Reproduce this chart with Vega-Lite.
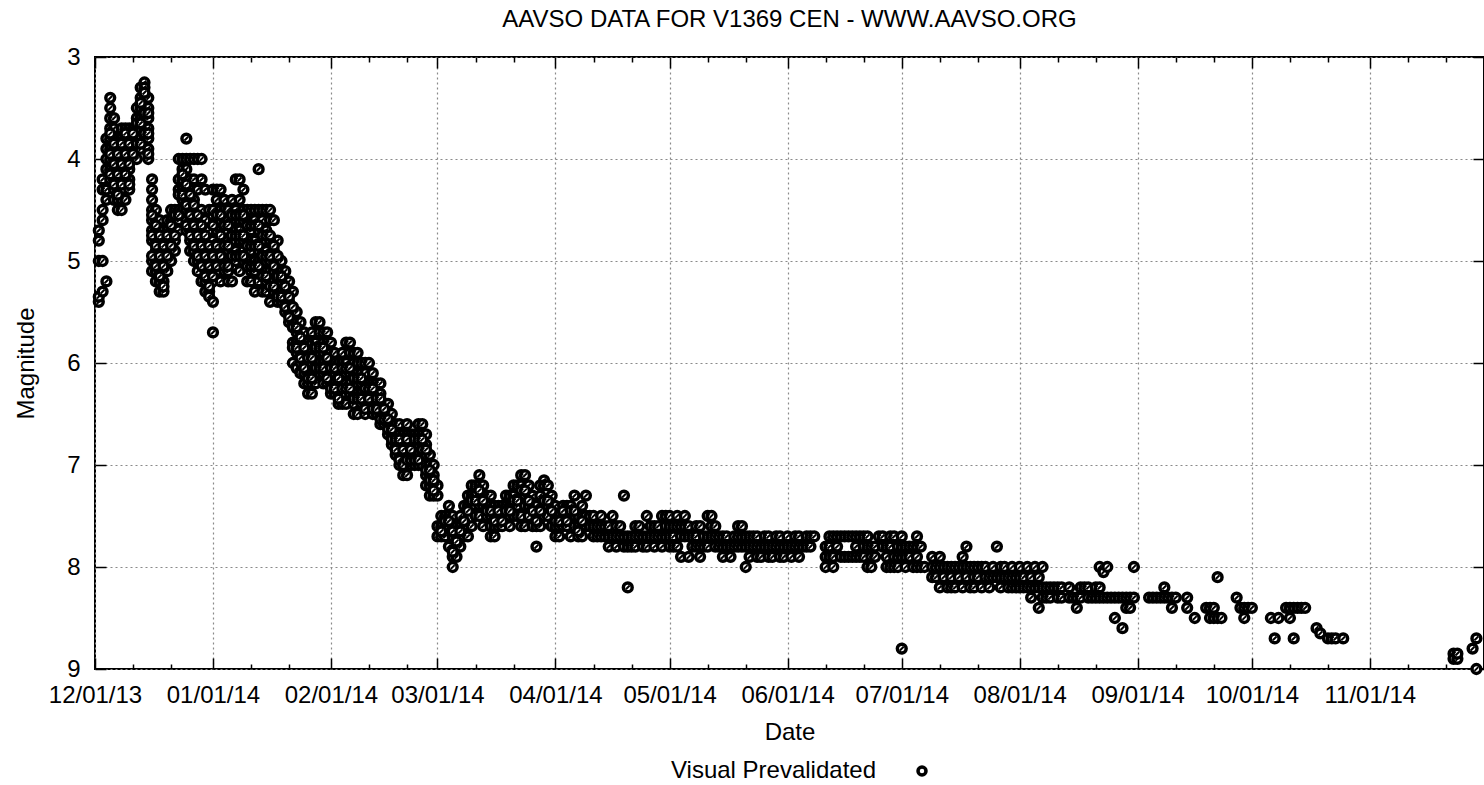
{
"$schema": "https://vega.github.io/schema/vega-lite/v6.json",
"width": 1389, "height": 612,
"autosize": {"type": "none"},
"padding": {"left": 95, "top": 57, "right": 0, "bottom": 116},
"background": "white",
"config": {"font": "Liberation Sans", "view": {"stroke": "black", "strokeWidth": 2}},
"title": {"text": "AAVSO DATA FOR V1369 CEN - WWW.AAVSO.ORG", "fontSize": 24, "fontWeight": "normal", "color": "black", "font": "Liberation Sans", "offset": 13},
"data": {"values": [
{"d":"2013-12-02","m":5.4},{"d":"2013-12-02","m":5.35},{"d":"2013-12-02","m":5.0},{"d":"2013-12-02","m":4.8},{"d":"2013-12-02","m":4.7},
{"d":"2013-12-03","m":5.3},{"d":"2013-12-03","m":5.0},{"d":"2013-12-03","m":4.6},{"d":"2013-12-03","m":4.5},{"d":"2013-12-03","m":4.3},{"d":"2013-12-03","m":4.2},
{"d":"2013-12-04","m":5.2},{"d":"2013-12-04","m":4.4},{"d":"2013-12-04","m":4.3},{"d":"2013-12-04","m":4.1},{"d":"2013-12-04","m":4.0},{"d":"2013-12-04","m":3.9},{"d":"2013-12-04","m":3.8},
{"d":"2013-12-05","m":3.4},{"d":"2013-12-05","m":3.5},{"d":"2013-12-05","m":3.6},{"d":"2013-12-05","m":3.7},{"d":"2013-12-05","m":3.8},{"d":"2013-12-05","m":3.9},{"d":"2013-12-05","m":4.0},{"d":"2013-12-05","m":4.1},{"d":"2013-12-05","m":4.2},
{"d":"2013-12-06","m":3.6},{"d":"2013-12-06","m":3.7},{"d":"2013-12-06","m":3.8},{"d":"2013-12-06","m":3.9},{"d":"2013-12-06","m":4.0},{"d":"2013-12-06","m":4.1},{"d":"2013-12-06","m":4.2},{"d":"2013-12-06","m":4.3},{"d":"2013-12-06","m":4.4},
{"d":"2013-12-07","m":3.8},{"d":"2013-12-07","m":3.9},{"d":"2013-12-07","m":4.0},{"d":"2013-12-07","m":4.1},{"d":"2013-12-07","m":4.2},{"d":"2013-12-07","m":4.3},{"d":"2013-12-07","m":4.4},{"d":"2013-12-07","m":4.5},
{"d":"2013-12-08","m":3.7},{"d":"2013-12-08","m":3.8},{"d":"2013-12-08","m":3.9},{"d":"2013-12-08","m":4.0},{"d":"2013-12-08","m":4.1},{"d":"2013-12-08","m":4.2},{"d":"2013-12-08","m":4.3},{"d":"2013-12-08","m":4.4},{"d":"2013-12-08","m":4.5},
{"d":"2013-12-09","m":3.7},{"d":"2013-12-09","m":3.8},{"d":"2013-12-09","m":4.0},{"d":"2013-12-09","m":4.1},{"d":"2013-12-09","m":4.2},{"d":"2013-12-09","m":4.4},
{"d":"2013-12-10","m":3.7},{"d":"2013-12-10","m":3.8},{"d":"2013-12-10","m":3.9},{"d":"2013-12-10","m":4.0},{"d":"2013-12-10","m":4.1},{"d":"2013-12-10","m":4.2},{"d":"2013-12-10","m":4.3},
{"d":"2013-12-11","m":3.7},{"d":"2013-12-11","m":3.8},{"d":"2013-12-11","m":3.9},{"d":"2013-12-11","m":4.0},
{"d":"2013-12-12","m":3.5},{"d":"2013-12-12","m":3.6},{"d":"2013-12-12","m":3.7},{"d":"2013-12-12","m":3.9},{"d":"2013-12-12","m":4.0},
{"d":"2013-12-13","m":3.3},{"d":"2013-12-13","m":3.4},{"d":"2013-12-13","m":3.5},{"d":"2013-12-13","m":3.6},{"d":"2013-12-13","m":3.7},{"d":"2013-12-13","m":3.8},{"d":"2013-12-13","m":3.9},
{"d":"2013-12-14","m":3.25},{"d":"2013-12-14","m":3.3},{"d":"2013-12-14","m":3.4},{"d":"2013-12-14","m":3.5},{"d":"2013-12-14","m":3.6},{"d":"2013-12-14","m":3.7},{"d":"2013-12-14","m":3.8},
{"d":"2013-12-15","m":3.4},{"d":"2013-12-15","m":3.5},{"d":"2013-12-15","m":3.6},{"d":"2013-12-15","m":3.7},{"d":"2013-12-15","m":3.8},{"d":"2013-12-15","m":3.9},{"d":"2013-12-15","m":4.0},
{"d":"2013-12-16","m":4.2},{"d":"2013-12-16","m":4.3},{"d":"2013-12-16","m":4.4},{"d":"2013-12-16","m":4.5},{"d":"2013-12-16","m":4.6},{"d":"2013-12-16","m":4.7},{"d":"2013-12-16","m":4.8},{"d":"2013-12-16","m":5.0},{"d":"2013-12-16","m":5.1},
{"d":"2013-12-17","m":4.5},{"d":"2013-12-17","m":4.6},{"d":"2013-12-17","m":4.7},{"d":"2013-12-17","m":4.8},{"d":"2013-12-17","m":4.9},{"d":"2013-12-17","m":5.0},{"d":"2013-12-17","m":5.1},{"d":"2013-12-17","m":5.2},
{"d":"2013-12-18","m":4.6},{"d":"2013-12-18","m":4.8},{"d":"2013-12-18","m":4.9},{"d":"2013-12-18","m":5.0},{"d":"2013-12-18","m":5.1},{"d":"2013-12-18","m":5.2},{"d":"2013-12-18","m":5.3},
{"d":"2013-12-19","m":4.7},{"d":"2013-12-19","m":4.8},{"d":"2013-12-19","m":5.0},{"d":"2013-12-19","m":5.1},{"d":"2013-12-19","m":5.2},{"d":"2013-12-19","m":5.3},
{"d":"2013-12-20","m":4.6},{"d":"2013-12-20","m":4.7},{"d":"2013-12-20","m":4.9},{"d":"2013-12-20","m":5.0},{"d":"2013-12-20","m":5.1},
{"d":"2013-12-21","m":4.5},{"d":"2013-12-21","m":4.6},{"d":"2013-12-21","m":4.7},{"d":"2013-12-21","m":4.8},{"d":"2013-12-21","m":5.0},
{"d":"2013-12-22","m":4.5},{"d":"2013-12-22","m":4.6},{"d":"2013-12-22","m":4.8},{"d":"2013-12-22","m":4.9},
{"d":"2013-12-23","m":4.0},{"d":"2013-12-23","m":4.2},{"d":"2013-12-23","m":4.3},{"d":"2013-12-23","m":4.5},{"d":"2013-12-23","m":4.6},{"d":"2013-12-23","m":4.7},
{"d":"2013-12-24","m":4.0},{"d":"2013-12-24","m":4.1},{"d":"2013-12-24","m":4.2},{"d":"2013-12-24","m":4.3},{"d":"2013-12-24","m":4.4},{"d":"2013-12-24","m":4.5},
{"d":"2013-12-25","m":3.8},{"d":"2013-12-25","m":4.0},{"d":"2013-12-25","m":4.1},{"d":"2013-12-25","m":4.3},{"d":"2013-12-25","m":4.4},{"d":"2013-12-25","m":4.5},{"d":"2013-12-25","m":4.6},{"d":"2013-12-25","m":4.7},
{"d":"2013-12-26","m":4.0},{"d":"2013-12-26","m":4.2},{"d":"2013-12-26","m":4.3},{"d":"2013-12-26","m":4.5},{"d":"2013-12-26","m":4.6},{"d":"2013-12-26","m":4.7},{"d":"2013-12-26","m":4.8},{"d":"2013-12-26","m":4.9},
{"d":"2013-12-27","m":4.0},{"d":"2013-12-27","m":4.2},{"d":"2013-12-27","m":4.4},{"d":"2013-12-27","m":4.5},{"d":"2013-12-27","m":4.6},{"d":"2013-12-27","m":4.8},{"d":"2013-12-27","m":4.9},{"d":"2013-12-27","m":5.0},
{"d":"2013-12-28","m":4.0},{"d":"2013-12-28","m":4.3},{"d":"2013-12-28","m":4.6},{"d":"2013-12-28","m":4.7},{"d":"2013-12-28","m":4.8},{"d":"2013-12-28","m":5.0},{"d":"2013-12-28","m":5.1},
{"d":"2013-12-29","m":4.0},{"d":"2013-12-29","m":4.2},{"d":"2013-12-29","m":4.5},{"d":"2013-12-29","m":4.7},{"d":"2013-12-29","m":4.9},{"d":"2013-12-29","m":5.0},{"d":"2013-12-29","m":5.2},
{"d":"2013-12-30","m":4.3},{"d":"2013-12-30","m":4.6},{"d":"2013-12-30","m":4.8},{"d":"2013-12-30","m":5.0},{"d":"2013-12-30","m":5.1},{"d":"2013-12-30","m":5.2},{"d":"2013-12-30","m":5.3},
{"d":"2013-12-31","m":4.5},{"d":"2013-12-31","m":4.7},{"d":"2013-12-31","m":4.9},{"d":"2013-12-31","m":5.0},{"d":"2013-12-31","m":5.1},{"d":"2013-12-31","m":5.3},{"d":"2013-12-31","m":5.35},
{"d":"2014-01-01","m":4.3},{"d":"2014-01-01","m":4.5},{"d":"2014-01-01","m":4.8},{"d":"2014-01-01","m":4.9},{"d":"2014-01-01","m":5.0},{"d":"2014-01-01","m":5.2},{"d":"2014-01-01","m":5.4},{"d":"2014-01-01","m":5.7},
{"d":"2014-01-02","m":4.3},{"d":"2014-01-02","m":4.4},{"d":"2014-01-02","m":4.6},{"d":"2014-01-02","m":4.7},{"d":"2014-01-02","m":4.9},{"d":"2014-01-02","m":5.0},{"d":"2014-01-02","m":5.1},
{"d":"2014-01-03","m":4.3},{"d":"2014-01-03","m":4.5},{"d":"2014-01-03","m":4.6},{"d":"2014-01-03","m":4.8},{"d":"2014-01-03","m":5.0},{"d":"2014-01-03","m":5.2},
{"d":"2014-01-04","m":4.4},{"d":"2014-01-04","m":4.5},{"d":"2014-01-04","m":4.7},{"d":"2014-01-04","m":4.9},{"d":"2014-01-04","m":5.0},{"d":"2014-01-04","m":5.1},
{"d":"2014-01-05","m":4.5},{"d":"2014-01-05","m":4.6},{"d":"2014-01-05","m":4.8},{"d":"2014-01-05","m":4.9},{"d":"2014-01-05","m":5.1},{"d":"2014-01-05","m":5.2},
{"d":"2014-01-06","m":4.4},{"d":"2014-01-06","m":4.6},{"d":"2014-01-06","m":4.8},{"d":"2014-01-06","m":5.0},{"d":"2014-01-06","m":5.2},
{"d":"2014-01-07","m":4.2},{"d":"2014-01-07","m":4.5},{"d":"2014-01-07","m":4.6},{"d":"2014-01-07","m":4.7},{"d":"2014-01-07","m":4.9},{"d":"2014-01-07","m":5.0},
{"d":"2014-01-08","m":4.2},{"d":"2014-01-08","m":4.4},{"d":"2014-01-08","m":4.6},{"d":"2014-01-08","m":4.7},{"d":"2014-01-08","m":4.8},{"d":"2014-01-08","m":5.1},
{"d":"2014-01-09","m":4.3},{"d":"2014-01-09","m":4.5},{"d":"2014-01-09","m":4.6},{"d":"2014-01-09","m":4.8},{"d":"2014-01-09","m":4.9},{"d":"2014-01-09","m":5.0},
{"d":"2014-01-10","m":4.5},{"d":"2014-01-10","m":4.6},{"d":"2014-01-10","m":4.8},{"d":"2014-01-10","m":5.0},{"d":"2014-01-10","m":5.2},
{"d":"2014-01-11","m":4.5},{"d":"2014-01-11","m":4.7},{"d":"2014-01-11","m":4.8},{"d":"2014-01-11","m":4.9},{"d":"2014-01-11","m":5.1},{"d":"2014-01-11","m":5.2},
{"d":"2014-01-12","m":4.5},{"d":"2014-01-12","m":4.6},{"d":"2014-01-12","m":4.8},{"d":"2014-01-12","m":5.0},{"d":"2014-01-12","m":5.1},{"d":"2014-01-12","m":5.3},
{"d":"2014-01-13","m":4.1},{"d":"2014-01-13","m":4.5},{"d":"2014-01-13","m":4.7},{"d":"2014-01-13","m":4.9},{"d":"2014-01-13","m":5.0},{"d":"2014-01-13","m":5.2},
{"d":"2014-01-14","m":4.5},{"d":"2014-01-14","m":4.6},{"d":"2014-01-14","m":4.8},{"d":"2014-01-14","m":5.0},{"d":"2014-01-14","m":5.1},{"d":"2014-01-14","m":5.3},
{"d":"2014-01-15","m":4.5},{"d":"2014-01-15","m":4.7},{"d":"2014-01-15","m":4.9},{"d":"2014-01-15","m":5.0},{"d":"2014-01-15","m":5.2},{"d":"2014-01-15","m":5.3},
{"d":"2014-01-16","m":4.5},{"d":"2014-01-16","m":4.6},{"d":"2014-01-16","m":4.8},{"d":"2014-01-16","m":5.0},{"d":"2014-01-16","m":5.1},{"d":"2014-01-16","m":5.4},
{"d":"2014-01-17","m":4.6},{"d":"2014-01-17","m":4.8},{"d":"2014-01-17","m":4.9},{"d":"2014-01-17","m":5.1},{"d":"2014-01-17","m":5.2},{"d":"2014-01-17","m":5.3},
{"d":"2014-01-18","m":4.8},{"d":"2014-01-18","m":5.0},{"d":"2014-01-18","m":5.1},{"d":"2014-01-18","m":5.2},{"d":"2014-01-18","m":5.3},{"d":"2014-01-18","m":5.4},
{"d":"2014-01-19","m":5.0},{"d":"2014-01-19","m":5.1},{"d":"2014-01-19","m":5.2},{"d":"2014-01-19","m":5.3},{"d":"2014-01-19","m":5.4},
{"d":"2014-01-20","m":5.1},{"d":"2014-01-20","m":5.2},{"d":"2014-01-20","m":5.3},{"d":"2014-01-20","m":5.4},{"d":"2014-01-20","m":5.5},
{"d":"2014-01-21","m":5.2},{"d":"2014-01-21","m":5.3},{"d":"2014-01-21","m":5.4},{"d":"2014-01-21","m":5.5},{"d":"2014-01-21","m":5.6},
{"d":"2014-01-22","m":5.3},{"d":"2014-01-22","m":5.5},{"d":"2014-01-22","m":5.6},{"d":"2014-01-22","m":5.8},{"d":"2014-01-22","m":6.0},
{"d":"2014-01-23","m":5.5},{"d":"2014-01-23","m":5.6},{"d":"2014-01-23","m":5.7},{"d":"2014-01-23","m":5.8},{"d":"2014-01-23","m":5.9},{"d":"2014-01-23","m":6.05},
{"d":"2014-01-24","m":5.6},{"d":"2014-01-24","m":5.7},{"d":"2014-01-24","m":5.8},{"d":"2014-01-24","m":5.9},{"d":"2014-01-24","m":6.0},{"d":"2014-01-24","m":6.1},
{"d":"2014-01-25","m":5.7},{"d":"2014-01-25","m":5.8},{"d":"2014-01-25","m":5.9},{"d":"2014-01-25","m":6.0},{"d":"2014-01-25","m":6.1},{"d":"2014-01-25","m":6.2},
{"d":"2014-01-26","m":5.8},{"d":"2014-01-26","m":5.9},{"d":"2014-01-26","m":6.0},{"d":"2014-01-26","m":6.1},{"d":"2014-01-26","m":6.2},{"d":"2014-01-26","m":6.3},
{"d":"2014-01-27","m":5.7},{"d":"2014-01-27","m":5.8},{"d":"2014-01-27","m":6.0},{"d":"2014-01-27","m":6.1},{"d":"2014-01-27","m":6.2},{"d":"2014-01-27","m":6.3},
{"d":"2014-01-28","m":5.6},{"d":"2014-01-28","m":5.8},{"d":"2014-01-28","m":5.9},{"d":"2014-01-28","m":6.0},{"d":"2014-01-28","m":6.1},{"d":"2014-01-28","m":6.2},
{"d":"2014-01-29","m":5.6},{"d":"2014-01-29","m":5.7},{"d":"2014-01-29","m":5.9},{"d":"2014-01-29","m":6.0},{"d":"2014-01-29","m":6.1},
{"d":"2014-01-30","m":5.7},{"d":"2014-01-30","m":5.8},{"d":"2014-01-30","m":5.9},{"d":"2014-01-30","m":6.0},{"d":"2014-01-30","m":6.1},{"d":"2014-01-30","m":6.2},
{"d":"2014-01-31","m":5.7},{"d":"2014-01-31","m":5.8},{"d":"2014-01-31","m":6.0},{"d":"2014-01-31","m":6.1},{"d":"2014-01-31","m":6.2},
{"d":"2014-02-01","m":5.8},{"d":"2014-02-01","m":5.9},{"d":"2014-02-01","m":6.0},{"d":"2014-02-01","m":6.1},{"d":"2014-02-01","m":6.2},{"d":"2014-02-01","m":6.3},
{"d":"2014-02-02","m":5.9},{"d":"2014-02-02","m":6.0},{"d":"2014-02-02","m":6.1},{"d":"2014-02-02","m":6.2},{"d":"2014-02-02","m":6.3},
{"d":"2014-02-03","m":6.0},{"d":"2014-02-03","m":6.1},{"d":"2014-02-03","m":6.2},{"d":"2014-02-03","m":6.3},{"d":"2014-02-03","m":6.4},
{"d":"2014-02-04","m":5.9},{"d":"2014-02-04","m":6.0},{"d":"2014-02-04","m":6.1},{"d":"2014-02-04","m":6.3},{"d":"2014-02-04","m":6.4},
{"d":"2014-02-05","m":5.8},{"d":"2014-02-05","m":6.0},{"d":"2014-02-05","m":6.1},{"d":"2014-02-05","m":6.2},{"d":"2014-02-05","m":6.4},
{"d":"2014-02-06","m":5.8},{"d":"2014-02-06","m":5.9},{"d":"2014-02-06","m":6.1},{"d":"2014-02-06","m":6.2},{"d":"2014-02-06","m":6.3},
{"d":"2014-02-07","m":5.9},{"d":"2014-02-07","m":6.0},{"d":"2014-02-07","m":6.1},{"d":"2014-02-07","m":6.3},{"d":"2014-02-07","m":6.4},{"d":"2014-02-07","m":6.5},
{"d":"2014-02-08","m":5.9},{"d":"2014-02-08","m":6.0},{"d":"2014-02-08","m":6.2},{"d":"2014-02-08","m":6.3},{"d":"2014-02-08","m":6.5},
{"d":"2014-02-09","m":6.0},{"d":"2014-02-09","m":6.1},{"d":"2014-02-09","m":6.2},{"d":"2014-02-09","m":6.3},{"d":"2014-02-09","m":6.4},
{"d":"2014-02-10","m":6.0},{"d":"2014-02-10","m":6.1},{"d":"2014-02-10","m":6.2},{"d":"2014-02-10","m":6.3},{"d":"2014-02-10","m":6.4},{"d":"2014-02-10","m":6.5},
{"d":"2014-02-11","m":6.0},{"d":"2014-02-11","m":6.2},{"d":"2014-02-11","m":6.3},{"d":"2014-02-11","m":6.4},
{"d":"2014-02-12","m":6.1},{"d":"2014-02-12","m":6.2},{"d":"2014-02-12","m":6.3},{"d":"2014-02-12","m":6.4},{"d":"2014-02-12","m":6.5},
{"d":"2014-02-13","m":6.2},{"d":"2014-02-13","m":6.3},{"d":"2014-02-13","m":6.4},{"d":"2014-02-13","m":6.5},
{"d":"2014-02-14","m":6.2},{"d":"2014-02-14","m":6.3},{"d":"2014-02-14","m":6.4},{"d":"2014-02-14","m":6.5},{"d":"2014-02-14","m":6.6},
{"d":"2014-02-15","m":6.4},{"d":"2014-02-15","m":6.5},{"d":"2014-02-15","m":6.6},
{"d":"2014-02-16","m":6.4},{"d":"2014-02-16","m":6.5},{"d":"2014-02-16","m":6.6},{"d":"2014-02-16","m":6.7},
{"d":"2014-02-17","m":6.5},{"d":"2014-02-17","m":6.6},{"d":"2014-02-17","m":6.7},{"d":"2014-02-17","m":6.8},
{"d":"2014-02-18","m":6.6},{"d":"2014-02-18","m":6.7},{"d":"2014-02-18","m":6.8},{"d":"2014-02-18","m":6.9},
{"d":"2014-02-19","m":6.6},{"d":"2014-02-19","m":6.7},{"d":"2014-02-19","m":6.8},{"d":"2014-02-19","m":6.9},{"d":"2014-02-19","m":7.0},
{"d":"2014-02-20","m":6.7},{"d":"2014-02-20","m":6.8},{"d":"2014-02-20","m":6.9},{"d":"2014-02-20","m":7.1},
{"d":"2014-02-21","m":6.6},{"d":"2014-02-21","m":6.7},{"d":"2014-02-21","m":6.8},{"d":"2014-02-21","m":7.0},{"d":"2014-02-21","m":7.1},
{"d":"2014-02-22","m":6.7},{"d":"2014-02-22","m":6.8},{"d":"2014-02-22","m":6.9},{"d":"2014-02-22","m":7.0},
{"d":"2014-02-23","m":6.7},{"d":"2014-02-23","m":6.8},{"d":"2014-02-23","m":6.9},{"d":"2014-02-23","m":7.0},
{"d":"2014-02-24","m":6.6},{"d":"2014-02-24","m":6.7},{"d":"2014-02-24","m":6.8},{"d":"2014-02-24","m":7.0},
{"d":"2014-02-25","m":6.6},{"d":"2014-02-25","m":6.7},{"d":"2014-02-25","m":6.8},{"d":"2014-02-25","m":6.9},{"d":"2014-02-25","m":7.0},
{"d":"2014-02-26","m":6.7},{"d":"2014-02-26","m":6.8},{"d":"2014-02-26","m":6.9},{"d":"2014-02-26","m":7.1},{"d":"2014-02-26","m":7.2},
{"d":"2014-02-27","m":6.9},{"d":"2014-02-27","m":7.0},{"d":"2014-02-27","m":7.1},{"d":"2014-02-27","m":7.2},{"d":"2014-02-27","m":7.3},
{"d":"2014-02-28","m":7.0},{"d":"2014-02-28","m":7.1},{"d":"2014-02-28","m":7.2},{"d":"2014-02-28","m":7.3},
{"d":"2014-03-01","m":7.2},{"d":"2014-03-01","m":7.3},{"d":"2014-03-01","m":7.6},{"d":"2014-03-01","m":7.7},
{"d":"2014-03-02","m":7.5},{"d":"2014-03-02","m":7.6},{"d":"2014-03-02","m":7.7},
{"d":"2014-03-03","m":7.5},{"d":"2014-03-03","m":7.6},{"d":"2014-03-03","m":7.7},
{"d":"2014-03-04","m":7.4},{"d":"2014-03-04","m":7.5},{"d":"2014-03-04","m":7.6},{"d":"2014-03-04","m":7.8},
{"d":"2014-03-05","m":7.5},{"d":"2014-03-05","m":7.6},{"d":"2014-03-05","m":7.7},{"d":"2014-03-05","m":7.9},{"d":"2014-03-05","m":8.0},
{"d":"2014-03-06","m":7.6},{"d":"2014-03-06","m":7.7},{"d":"2014-03-06","m":7.8},{"d":"2014-03-06","m":7.9},
{"d":"2014-03-07","m":7.5},{"d":"2014-03-07","m":7.6},{"d":"2014-03-07","m":7.7},{"d":"2014-03-07","m":7.8},
{"d":"2014-03-08","m":7.4},{"d":"2014-03-08","m":7.6},{"d":"2014-03-08","m":7.7},
{"d":"2014-03-09","m":7.3},{"d":"2014-03-09","m":7.4},{"d":"2014-03-09","m":7.6},{"d":"2014-03-09","m":7.7},
{"d":"2014-03-10","m":7.2},{"d":"2014-03-10","m":7.3},{"d":"2014-03-10","m":7.4},{"d":"2014-03-10","m":7.6},
{"d":"2014-03-11","m":7.2},{"d":"2014-03-11","m":7.3},{"d":"2014-03-11","m":7.5},
{"d":"2014-03-12","m":7.1},{"d":"2014-03-12","m":7.2},{"d":"2014-03-12","m":7.4},{"d":"2014-03-12","m":7.5},
{"d":"2014-03-13","m":7.2},{"d":"2014-03-13","m":7.3},{"d":"2014-03-13","m":7.4},{"d":"2014-03-13","m":7.6},
{"d":"2014-03-14","m":7.3},{"d":"2014-03-14","m":7.4},{"d":"2014-03-14","m":7.5},
{"d":"2014-03-15","m":7.3},{"d":"2014-03-15","m":7.5},{"d":"2014-03-15","m":7.6},{"d":"2014-03-15","m":7.7},
{"d":"2014-03-16","m":7.4},{"d":"2014-03-16","m":7.5},{"d":"2014-03-16","m":7.6},{"d":"2014-03-16","m":7.7},
{"d":"2014-03-17","m":7.4},{"d":"2014-03-17","m":7.5},{"d":"2014-03-17","m":7.6},
{"d":"2014-03-18","m":7.4},{"d":"2014-03-18","m":7.5},{"d":"2014-03-18","m":7.6},
{"d":"2014-03-19","m":7.3},{"d":"2014-03-19","m":7.4},{"d":"2014-03-19","m":7.5},
{"d":"2014-03-20","m":7.3},{"d":"2014-03-20","m":7.4},{"d":"2014-03-20","m":7.5},{"d":"2014-03-20","m":7.6},
{"d":"2014-03-21","m":7.2},{"d":"2014-03-21","m":7.3},{"d":"2014-03-21","m":7.4},{"d":"2014-03-21","m":7.5},
{"d":"2014-03-22","m":7.2},{"d":"2014-03-22","m":7.4},{"d":"2014-03-22","m":7.5},
{"d":"2014-03-23","m":7.1},{"d":"2014-03-23","m":7.2},{"d":"2014-03-23","m":7.3},{"d":"2014-03-23","m":7.5},{"d":"2014-03-23","m":7.6},
{"d":"2014-03-24","m":7.1},{"d":"2014-03-24","m":7.3},{"d":"2014-03-24","m":7.4},{"d":"2014-03-24","m":7.6},
{"d":"2014-03-25","m":7.2},{"d":"2014-03-25","m":7.4},{"d":"2014-03-25","m":7.5},
{"d":"2014-03-26","m":7.3},{"d":"2014-03-26","m":7.4},{"d":"2014-03-26","m":7.6},
{"d":"2014-03-27","m":7.4},{"d":"2014-03-27","m":7.5},{"d":"2014-03-27","m":7.6},{"d":"2014-03-27","m":7.8},
{"d":"2014-03-28","m":7.2},{"d":"2014-03-28","m":7.3},{"d":"2014-03-28","m":7.5},{"d":"2014-03-28","m":7.6},
{"d":"2014-03-29","m":7.15},{"d":"2014-03-29","m":7.2},{"d":"2014-03-29","m":7.4},{"d":"2014-03-29","m":7.5},
{"d":"2014-03-30","m":7.2},{"d":"2014-03-30","m":7.4},{"d":"2014-03-30","m":7.5},
{"d":"2014-03-31","m":7.3},{"d":"2014-03-31","m":7.4},{"d":"2014-03-31","m":7.6},
{"d":"2014-04-01","m":7.4},{"d":"2014-04-01","m":7.5},{"d":"2014-04-01","m":7.6},{"d":"2014-04-01","m":7.7},
{"d":"2014-04-02","m":7.5},{"d":"2014-04-02","m":7.6},{"d":"2014-04-02","m":7.7},
{"d":"2014-04-03","m":7.4},{"d":"2014-04-03","m":7.5},{"d":"2014-04-03","m":7.6},
{"d":"2014-04-04","m":7.4},{"d":"2014-04-04","m":7.5},{"d":"2014-04-04","m":7.6},
{"d":"2014-04-05","m":7.4},{"d":"2014-04-05","m":7.5},{"d":"2014-04-05","m":7.7},
{"d":"2014-04-06","m":7.3},{"d":"2014-04-06","m":7.5},{"d":"2014-04-06","m":7.6},
{"d":"2014-04-07","m":7.5},{"d":"2014-04-07","m":7.6},{"d":"2014-04-07","m":7.7},
{"d":"2014-04-08","m":7.4},{"d":"2014-04-08","m":7.6},{"d":"2014-04-08","m":7.7},
{"d":"2014-04-09","m":7.3},{"d":"2014-04-09","m":7.5},{"d":"2014-04-09","m":7.6},
{"d":"2014-04-10","m":7.5},{"d":"2014-04-10","m":7.6},
{"d":"2014-04-11","m":7.5},{"d":"2014-04-11","m":7.6},{"d":"2014-04-11","m":7.7},
{"d":"2014-04-12","m":7.6},{"d":"2014-04-12","m":7.7},
{"d":"2014-04-13","m":7.5},{"d":"2014-04-13","m":7.6},{"d":"2014-04-13","m":7.7},
{"d":"2014-04-14","m":7.6},{"d":"2014-04-14","m":7.7},
{"d":"2014-04-15","m":7.6},{"d":"2014-04-15","m":7.7},{"d":"2014-04-15","m":7.8},
{"d":"2014-04-16","m":7.5},{"d":"2014-04-16","m":7.7},
{"d":"2014-04-17","m":7.6},{"d":"2014-04-17","m":7.7},{"d":"2014-04-17","m":7.8},
{"d":"2014-04-18","m":7.6},{"d":"2014-04-18","m":7.7},
{"d":"2014-04-19","m":7.3},{"d":"2014-04-19","m":7.7},{"d":"2014-04-19","m":7.8},
{"d":"2014-04-20","m":7.7},{"d":"2014-04-20","m":7.8},{"d":"2014-04-20","m":8.2},
{"d":"2014-04-21","m":7.7},{"d":"2014-04-21","m":7.8},
{"d":"2014-04-22","m":7.6},{"d":"2014-04-22","m":7.7},{"d":"2014-04-22","m":7.8},
{"d":"2014-04-23","m":7.6},{"d":"2014-04-23","m":7.7},
{"d":"2014-04-24","m":7.7},{"d":"2014-04-24","m":7.8},
{"d":"2014-04-25","m":7.5},{"d":"2014-04-25","m":7.7},{"d":"2014-04-25","m":7.8},
{"d":"2014-04-26","m":7.6},{"d":"2014-04-26","m":7.7},
{"d":"2014-04-27","m":7.6},{"d":"2014-04-27","m":7.7},{"d":"2014-04-27","m":7.8},
{"d":"2014-04-28","m":7.6},{"d":"2014-04-28","m":7.7},
{"d":"2014-04-29","m":7.5},{"d":"2014-04-29","m":7.7},{"d":"2014-04-29","m":7.8},
{"d":"2014-04-30","m":7.5},{"d":"2014-04-30","m":7.6},{"d":"2014-04-30","m":7.7},
{"d":"2014-05-01","m":7.5},{"d":"2014-05-01","m":7.6},{"d":"2014-05-01","m":7.7},{"d":"2014-05-01","m":7.8},
{"d":"2014-05-02","m":7.6},{"d":"2014-05-02","m":7.7},{"d":"2014-05-02","m":7.8},
{"d":"2014-05-03","m":7.5},{"d":"2014-05-03","m":7.6},{"d":"2014-05-03","m":7.8},
{"d":"2014-05-04","m":7.6},{"d":"2014-05-04","m":7.7},{"d":"2014-05-04","m":7.9},
{"d":"2014-05-05","m":7.5},{"d":"2014-05-05","m":7.6},{"d":"2014-05-05","m":7.7},
{"d":"2014-05-06","m":7.6},{"d":"2014-05-06","m":7.7},{"d":"2014-05-06","m":7.9},
{"d":"2014-05-07","m":7.7},{"d":"2014-05-07","m":7.8},
{"d":"2014-05-08","m":7.6},{"d":"2014-05-08","m":7.7},{"d":"2014-05-08","m":7.8},
{"d":"2014-05-09","m":7.6},{"d":"2014-05-09","m":7.8},{"d":"2014-05-09","m":7.9},
{"d":"2014-05-10","m":7.7},{"d":"2014-05-10","m":7.8},
{"d":"2014-05-11","m":7.5},{"d":"2014-05-11","m":7.7},{"d":"2014-05-11","m":7.8},
{"d":"2014-05-12","m":7.5},{"d":"2014-05-12","m":7.6},{"d":"2014-05-12","m":7.7},
{"d":"2014-05-13","m":7.6},{"d":"2014-05-13","m":7.7},{"d":"2014-05-13","m":7.8},
{"d":"2014-05-14","m":7.7},{"d":"2014-05-14","m":7.8},
{"d":"2014-05-15","m":7.7},{"d":"2014-05-15","m":7.8},{"d":"2014-05-15","m":7.9},
{"d":"2014-05-16","m":7.7},{"d":"2014-05-16","m":7.8},
{"d":"2014-05-17","m":7.8},{"d":"2014-05-17","m":7.9},
{"d":"2014-05-18","m":7.7},{"d":"2014-05-18","m":7.8},
{"d":"2014-05-19","m":7.6},{"d":"2014-05-19","m":7.7},{"d":"2014-05-19","m":7.8},
{"d":"2014-05-20","m":7.6},{"d":"2014-05-20","m":7.7},{"d":"2014-05-20","m":7.8},
{"d":"2014-05-21","m":7.7},{"d":"2014-05-21","m":7.8},{"d":"2014-05-21","m":8.0},
{"d":"2014-05-22","m":7.7},{"d":"2014-05-22","m":7.8},{"d":"2014-05-22","m":7.9},
{"d":"2014-05-23","m":7.7},{"d":"2014-05-23","m":7.8},
{"d":"2014-05-24","m":7.7},{"d":"2014-05-24","m":7.8},{"d":"2014-05-24","m":7.9},
{"d":"2014-05-25","m":7.8},{"d":"2014-05-25","m":7.9},
{"d":"2014-05-26","m":7.7},{"d":"2014-05-26","m":7.8},
{"d":"2014-05-27","m":7.7},{"d":"2014-05-27","m":7.8},{"d":"2014-05-27","m":7.9},
{"d":"2014-05-28","m":7.8},{"d":"2014-05-28","m":7.9},
{"d":"2014-05-29","m":7.7},{"d":"2014-05-29","m":7.8},
{"d":"2014-05-30","m":7.7},{"d":"2014-05-30","m":7.8},{"d":"2014-05-30","m":7.9},
{"d":"2014-05-31","m":7.8},{"d":"2014-05-31","m":7.9},
{"d":"2014-06-01","m":7.7},{"d":"2014-06-01","m":7.8},
{"d":"2014-06-02","m":7.8},{"d":"2014-06-02","m":7.9},
{"d":"2014-06-03","m":7.7},{"d":"2014-06-03","m":7.8},
{"d":"2014-06-04","m":7.7},{"d":"2014-06-04","m":7.8},{"d":"2014-06-04","m":7.9},
{"d":"2014-06-05","m":7.8},
{"d":"2014-06-06","m":7.7},{"d":"2014-06-06","m":7.8},
{"d":"2014-06-07","m":7.7},{"d":"2014-06-07","m":7.8},
{"d":"2014-06-08","m":7.7},
{"d":"2014-06-11","m":7.8},{"d":"2014-06-11","m":7.9},{"d":"2014-06-11","m":8.0},
{"d":"2014-06-12","m":7.7},{"d":"2014-06-12","m":7.8},{"d":"2014-06-12","m":7.9},
{"d":"2014-06-13","m":7.7},{"d":"2014-06-13","m":7.9},{"d":"2014-06-13","m":8.0},
{"d":"2014-06-14","m":7.7},{"d":"2014-06-14","m":7.8},
{"d":"2014-06-15","m":7.7},{"d":"2014-06-15","m":7.9},
{"d":"2014-06-16","m":7.7},{"d":"2014-06-16","m":7.9},
{"d":"2014-06-17","m":7.7},{"d":"2014-06-17","m":7.9},
{"d":"2014-06-18","m":7.7},{"d":"2014-06-18","m":7.9},
{"d":"2014-06-19","m":7.7},{"d":"2014-06-19","m":7.8},{"d":"2014-06-19","m":7.9},
{"d":"2014-06-20","m":7.7},{"d":"2014-06-20","m":7.9},
{"d":"2014-06-21","m":7.7},{"d":"2014-06-21","m":7.8},{"d":"2014-06-21","m":7.9},
{"d":"2014-06-22","m":7.7},{"d":"2014-06-22","m":7.8},{"d":"2014-06-22","m":8.0},
{"d":"2014-06-23","m":7.8},{"d":"2014-06-23","m":7.9},{"d":"2014-06-23","m":8.0},
{"d":"2014-06-24","m":7.8},{"d":"2014-06-24","m":7.9},
{"d":"2014-06-25","m":7.7},
{"d":"2014-06-26","m":7.7},{"d":"2014-06-26","m":7.8},
{"d":"2014-06-27","m":7.8},{"d":"2014-06-27","m":7.9},{"d":"2014-06-27","m":8.0},
{"d":"2014-06-28","m":7.7},{"d":"2014-06-28","m":7.8},{"d":"2014-06-28","m":8.0},
{"d":"2014-06-29","m":7.7},{"d":"2014-06-29","m":7.9},{"d":"2014-06-29","m":8.0},
{"d":"2014-06-30","m":7.8},{"d":"2014-06-30","m":7.9},{"d":"2014-06-30","m":8.0},
{"d":"2014-07-01","m":7.7},{"d":"2014-07-01","m":7.8},{"d":"2014-07-01","m":7.9},{"d":"2014-07-01","m":8.8},
{"d":"2014-07-02","m":7.8},{"d":"2014-07-02","m":7.9},{"d":"2014-07-02","m":8.0},
{"d":"2014-07-03","m":7.8},{"d":"2014-07-03","m":7.9},
{"d":"2014-07-04","m":7.8},{"d":"2014-07-04","m":8.0},
{"d":"2014-07-05","m":7.7},{"d":"2014-07-05","m":7.8},{"d":"2014-07-05","m":7.9},{"d":"2014-07-05","m":8.0},
{"d":"2014-07-06","m":7.8},{"d":"2014-07-06","m":8.0},
{"d":"2014-07-07","m":8.0},
{"d":"2014-07-09","m":7.9},{"d":"2014-07-09","m":8.0},{"d":"2014-07-09","m":8.1},
{"d":"2014-07-10","m":8.0},{"d":"2014-07-10","m":8.1},
{"d":"2014-07-11","m":7.9},{"d":"2014-07-11","m":8.0},{"d":"2014-07-11","m":8.2},
{"d":"2014-07-12","m":8.0},{"d":"2014-07-12","m":8.1},
{"d":"2014-07-13","m":8.0},{"d":"2014-07-13","m":8.2},
{"d":"2014-07-14","m":8.0},{"d":"2014-07-14","m":8.1},{"d":"2014-07-14","m":8.2},
{"d":"2014-07-15","m":8.0},{"d":"2014-07-15","m":8.2},
{"d":"2014-07-16","m":8.0},{"d":"2014-07-16","m":8.1},
{"d":"2014-07-17","m":7.9},{"d":"2014-07-17","m":8.0},{"d":"2014-07-17","m":8.2},
{"d":"2014-07-18","m":7.8},{"d":"2014-07-18","m":8.0},{"d":"2014-07-18","m":8.1},
{"d":"2014-07-19","m":8.0},{"d":"2014-07-19","m":8.2},
{"d":"2014-07-20","m":8.0},{"d":"2014-07-20","m":8.1},{"d":"2014-07-20","m":8.2},
{"d":"2014-07-21","m":8.0},{"d":"2014-07-21","m":8.1},
{"d":"2014-07-22","m":8.0},{"d":"2014-07-22","m":8.2},
{"d":"2014-07-23","m":8.0},{"d":"2014-07-23","m":8.1},
{"d":"2014-07-24","m":8.1},{"d":"2014-07-24","m":8.2},
{"d":"2014-07-25","m":8.0},{"d":"2014-07-25","m":8.1},
{"d":"2014-07-26","m":7.8},{"d":"2014-07-26","m":8.1},
{"d":"2014-07-27","m":8.0},{"d":"2014-07-27","m":8.1},{"d":"2014-07-27","m":8.2},
{"d":"2014-07-28","m":8.0},{"d":"2014-07-28","m":8.1},
{"d":"2014-07-29","m":8.1},{"d":"2014-07-29","m":8.2},
{"d":"2014-07-30","m":8.0},{"d":"2014-07-30","m":8.1},{"d":"2014-07-30","m":8.2},
{"d":"2014-07-31","m":8.1},{"d":"2014-07-31","m":8.2},
{"d":"2014-08-01","m":8.0},{"d":"2014-08-01","m":8.1},{"d":"2014-08-01","m":8.2},
{"d":"2014-08-02","m":8.1},{"d":"2014-08-02","m":8.2},
{"d":"2014-08-03","m":8.0},{"d":"2014-08-03","m":8.2},
{"d":"2014-08-04","m":8.1},{"d":"2014-08-04","m":8.2},{"d":"2014-08-04","m":8.3},
{"d":"2014-08-05","m":8.0},{"d":"2014-08-05","m":8.2},
{"d":"2014-08-06","m":8.1},{"d":"2014-08-06","m":8.2},{"d":"2014-08-06","m":8.4},
{"d":"2014-08-07","m":8.0},{"d":"2014-08-07","m":8.2},{"d":"2014-08-07","m":8.3},
{"d":"2014-08-08","m":8.2},{"d":"2014-08-08","m":8.3},
{"d":"2014-08-09","m":8.2},{"d":"2014-08-09","m":8.3},
{"d":"2014-08-10","m":8.2},
{"d":"2014-08-11","m":8.2},{"d":"2014-08-11","m":8.3},
{"d":"2014-08-12","m":8.2},{"d":"2014-08-12","m":8.3},
{"d":"2014-08-14","m":8.2},{"d":"2014-08-14","m":8.3},
{"d":"2014-08-15","m":8.3},
{"d":"2014-08-16","m":8.3},{"d":"2014-08-16","m":8.4},
{"d":"2014-08-17","m":8.2},{"d":"2014-08-17","m":8.3},
{"d":"2014-08-18","m":8.2},
{"d":"2014-08-19","m":8.2},{"d":"2014-08-19","m":8.3},
{"d":"2014-08-20","m":8.3},
{"d":"2014-08-21","m":8.2},{"d":"2014-08-21","m":8.3},
{"d":"2014-08-22","m":8.0},{"d":"2014-08-22","m":8.2},{"d":"2014-08-22","m":8.3},
{"d":"2014-08-23","m":8.05},{"d":"2014-08-23","m":8.3},
{"d":"2014-08-24","m":8.0},{"d":"2014-08-24","m":8.3},
{"d":"2014-08-25","m":8.3},
{"d":"2014-08-26","m":8.3},{"d":"2014-08-26","m":8.5},
{"d":"2014-08-27","m":8.3},
{"d":"2014-08-28","m":8.3},{"d":"2014-08-28","m":8.6},
{"d":"2014-08-29","m":8.3},{"d":"2014-08-29","m":8.4},
{"d":"2014-08-30","m":8.3},{"d":"2014-08-30","m":8.4},
{"d":"2014-08-31","m":8.0},{"d":"2014-08-31","m":8.3},
{"d":"2014-09-04","m":8.3},{"d":"2014-09-05","m":8.3},{"d":"2014-09-06","m":8.3},{"d":"2014-09-07","m":8.3},
{"d":"2014-09-08","m":8.2},{"d":"2014-09-08","m":8.3},
{"d":"2014-09-09","m":8.3},
{"d":"2014-09-10","m":8.3},{"d":"2014-09-10","m":8.4},
{"d":"2014-09-11","m":8.3},
{"d":"2014-09-14","m":8.3},{"d":"2014-09-14","m":8.4},
{"d":"2014-09-16","m":8.5},
{"d":"2014-09-19","m":8.4},
{"d":"2014-09-20","m":8.4},{"d":"2014-09-20","m":8.5},
{"d":"2014-09-21","m":8.4},{"d":"2014-09-21","m":8.5},
{"d":"2014-09-22","m":8.1},{"d":"2014-09-22","m":8.5},
{"d":"2014-09-23","m":8.5},
{"d":"2014-09-27","m":8.3},
{"d":"2014-09-28","m":8.4},
{"d":"2014-09-29","m":8.4},{"d":"2014-09-29","m":8.5},
{"d":"2014-09-30","m":8.4},
{"d":"2014-10-01","m":8.4},
{"d":"2014-10-06","m":8.5},
{"d":"2014-10-07","m":8.7},
{"d":"2014-10-08","m":8.5},
{"d":"2014-10-10","m":8.4},
{"d":"2014-10-11","m":8.4},{"d":"2014-10-11","m":8.5},
{"d":"2014-10-12","m":8.4},{"d":"2014-10-12","m":8.7},
{"d":"2014-10-13","m":8.4},
{"d":"2014-10-14","m":8.4},
{"d":"2014-10-15","m":8.4},
{"d":"2014-10-18","m":8.6},
{"d":"2014-10-19","m":8.65},
{"d":"2014-10-21","m":8.7},
{"d":"2014-10-22","m":8.7},
{"d":"2014-10-23","m":8.7},
{"d":"2014-10-25","m":8.7},
{"d":"2014-11-23","m":8.85},{"d":"2014-11-23","m":8.9},
{"d":"2014-11-24","m":8.9},{"d":"2014-11-24","m":8.85},
{"d":"2014-11-28","m":8.8},
{"d":"2014-11-29","m":8.7},{"d":"2014-11-29","m":9.0},
{"d":"2013-12-05","m":3.75},{"d":"2013-12-05","m":3.95},{"d":"2013-12-05","m":4.15},
{"d":"2013-12-06","m":3.85},{"d":"2013-12-06","m":4.05},{"d":"2013-12-06","m":4.25},
{"d":"2013-12-07","m":3.95},{"d":"2013-12-07","m":4.15},{"d":"2013-12-07","m":4.35},
{"d":"2013-12-08","m":3.85},{"d":"2013-12-08","m":4.05},{"d":"2013-12-08","m":4.25},
{"d":"2013-12-09","m":3.75},{"d":"2013-12-09","m":3.95},{"d":"2013-12-09","m":4.15},
{"d":"2013-12-10","m":3.85},{"d":"2013-12-10","m":4.05},{"d":"2013-12-10","m":4.25},
{"d":"2013-12-11","m":3.75},{"d":"2013-12-11","m":3.95},
{"d":"2013-12-12","m":3.65},{"d":"2013-12-12","m":3.85},
{"d":"2013-12-13","m":3.45},{"d":"2013-12-13","m":3.65},{"d":"2013-12-13","m":3.85},
{"d":"2013-12-14","m":3.35},{"d":"2013-12-14","m":3.55},{"d":"2013-12-14","m":3.75},
{"d":"2013-12-15","m":3.55},{"d":"2013-12-15","m":3.75},{"d":"2013-12-15","m":3.95},
{"d":"2013-12-16","m":4.55},{"d":"2013-12-16","m":4.75},{"d":"2013-12-16","m":4.95},
{"d":"2013-12-17","m":4.65},{"d":"2013-12-17","m":4.85},{"d":"2013-12-17","m":5.05},
{"d":"2013-12-18","m":4.75},{"d":"2013-12-18","m":4.95},{"d":"2013-12-18","m":5.15},
{"d":"2013-12-19","m":4.85},{"d":"2013-12-19","m":5.05},{"d":"2013-12-19","m":5.25},
{"d":"2013-12-20","m":4.75},{"d":"2013-12-20","m":4.95},
{"d":"2013-12-21","m":4.65},{"d":"2013-12-21","m":4.85},
{"d":"2013-12-22","m":4.55},{"d":"2013-12-22","m":4.75},
{"d":"2013-12-23","m":4.35},{"d":"2013-12-23","m":4.55},
{"d":"2013-12-24","m":4.15},{"d":"2013-12-24","m":4.35},
{"d":"2013-12-25","m":4.25},{"d":"2013-12-25","m":4.45},{"d":"2013-12-25","m":4.65},
{"d":"2013-12-26","m":4.35},{"d":"2013-12-26","m":4.55},{"d":"2013-12-26","m":4.75},
{"d":"2013-12-27","m":4.45},{"d":"2013-12-27","m":4.65},{"d":"2013-12-27","m":4.85},
{"d":"2013-12-28","m":4.55},{"d":"2013-12-28","m":4.75},{"d":"2013-12-28","m":4.95},
{"d":"2013-12-29","m":4.65},{"d":"2013-12-29","m":4.85},{"d":"2013-12-29","m":5.05},
{"d":"2013-12-30","m":4.75},{"d":"2013-12-30","m":4.95},{"d":"2013-12-30","m":5.15},
{"d":"2013-12-31","m":4.85},{"d":"2013-12-31","m":5.05},{"d":"2013-12-31","m":5.25},
{"d":"2014-01-01","m":4.65},{"d":"2014-01-01","m":4.95},{"d":"2014-01-01","m":5.15},
{"d":"2014-01-02","m":4.55},{"d":"2014-01-02","m":4.85},{"d":"2014-01-02","m":5.05},
{"d":"2014-01-03","m":4.55},{"d":"2014-01-03","m":4.75},{"d":"2014-01-03","m":4.95},
{"d":"2014-01-04","m":4.65},{"d":"2014-01-04","m":4.85},{"d":"2014-01-04","m":5.05},
{"d":"2014-01-05","m":4.65},{"d":"2014-01-05","m":4.85},{"d":"2014-01-05","m":5.05},
{"d":"2014-01-06","m":4.55},{"d":"2014-01-06","m":4.75},{"d":"2014-01-06","m":4.95},
{"d":"2014-01-07","m":4.55},{"d":"2014-01-07","m":4.75},{"d":"2014-01-07","m":4.95},
{"d":"2014-01-08","m":4.55},{"d":"2014-01-08","m":4.75},{"d":"2014-01-08","m":4.95},
{"d":"2014-01-09","m":4.55},{"d":"2014-01-09","m":4.75},{"d":"2014-01-09","m":4.95},
{"d":"2014-01-10","m":4.65},{"d":"2014-01-10","m":4.85},{"d":"2014-01-10","m":5.05},
{"d":"2014-01-11","m":4.65},{"d":"2014-01-11","m":4.85},{"d":"2014-01-11","m":5.05},
{"d":"2014-01-12","m":4.65},{"d":"2014-01-12","m":4.85},{"d":"2014-01-12","m":5.05},
{"d":"2014-01-13","m":4.65},{"d":"2014-01-13","m":4.85},{"d":"2014-01-13","m":5.05},
{"d":"2014-01-14","m":4.75},{"d":"2014-01-14","m":4.95},{"d":"2014-01-14","m":5.15},
{"d":"2014-01-15","m":4.75},{"d":"2014-01-15","m":4.95},{"d":"2014-01-15","m":5.15},
{"d":"2014-01-16","m":4.75},{"d":"2014-01-16","m":4.95},{"d":"2014-01-16","m":5.25},
{"d":"2014-01-17","m":4.85},{"d":"2014-01-17","m":5.05},{"d":"2014-01-17","m":5.25},
{"d":"2014-01-18","m":4.95},{"d":"2014-01-18","m":5.15},{"d":"2014-01-18","m":5.35},
{"d":"2014-01-19","m":5.15},{"d":"2014-01-19","m":5.35},
{"d":"2014-01-20","m":5.25},{"d":"2014-01-20","m":5.45},
{"d":"2014-01-21","m":5.35},{"d":"2014-01-21","m":5.55},
{"d":"2014-01-22","m":5.45},{"d":"2014-01-22","m":5.65},{"d":"2014-01-22","m":5.85},
{"d":"2014-01-23","m":5.65},{"d":"2014-01-23","m":5.85},
{"d":"2014-01-24","m":5.75},{"d":"2014-01-24","m":5.95},
{"d":"2014-01-25","m":5.85},{"d":"2014-01-25","m":6.05},
{"d":"2014-01-26","m":5.95},{"d":"2014-01-26","m":6.15},
{"d":"2014-01-27","m":5.95},{"d":"2014-01-27","m":6.15},
{"d":"2014-01-28","m":5.85},{"d":"2014-01-28","m":6.05},
{"d":"2014-01-29","m":5.85},{"d":"2014-01-29","m":6.05},
{"d":"2014-01-30","m":5.85},{"d":"2014-01-30","m":6.05},
{"d":"2014-01-31","m":5.95},{"d":"2014-01-31","m":6.15},
{"d":"2014-02-01","m":6.05},{"d":"2014-02-01","m":6.25},
{"d":"2014-02-02","m":6.05},{"d":"2014-02-02","m":6.25},
{"d":"2014-02-03","m":6.15},{"d":"2014-02-03","m":6.35},
{"d":"2014-02-04","m":6.05},{"d":"2014-02-04","m":6.25},
{"d":"2014-02-05","m":6.05},{"d":"2014-02-05","m":6.25},
{"d":"2014-02-06","m":6.05},{"d":"2014-02-06","m":6.25},
{"d":"2014-02-07","m":6.15},{"d":"2014-02-07","m":6.35},
{"d":"2014-02-08","m":6.15},{"d":"2014-02-08","m":6.35},
{"d":"2014-02-09","m":6.15},{"d":"2014-02-09","m":6.35},
{"d":"2014-02-10","m":6.25},{"d":"2014-02-10","m":6.45},
{"d":"2014-02-11","m":6.25},{"d":"2014-02-11","m":6.35},
{"d":"2014-02-12","m":6.25},{"d":"2014-02-12","m":6.45},
{"d":"2014-02-13","m":6.35},{"d":"2014-02-13","m":6.45},
{"d":"2014-02-14","m":6.35},{"d":"2014-02-14","m":6.55},
{"d":"2014-02-15","m":6.45},{"d":"2014-02-15","m":6.55},
{"d":"2014-02-16","m":6.55},{"d":"2014-02-16","m":6.65},
{"d":"2014-02-17","m":6.65},{"d":"2014-02-17","m":6.75},
{"d":"2014-02-18","m":6.75},{"d":"2014-02-18","m":6.85},
{"d":"2014-02-19","m":6.75},{"d":"2014-02-19","m":6.95},
{"d":"2014-02-20","m":6.85},{"d":"2014-02-20","m":7.0},
{"d":"2014-02-21","m":6.75},{"d":"2014-02-21","m":6.95},
{"d":"2014-02-22","m":6.85},{"d":"2014-02-22","m":6.95},
{"d":"2014-02-23","m":6.75},{"d":"2014-02-23","m":6.95},
{"d":"2014-02-24","m":6.75},{"d":"2014-02-24","m":6.95},
{"d":"2014-02-25","m":6.75},{"d":"2014-02-25","m":6.85},
{"d":"2014-02-26","m":6.85},{"d":"2014-02-26","m":7.05},
{"d":"2014-02-27","m":7.05},{"d":"2014-02-27","m":7.15},
{"d":"2014-02-28","m":7.15},{"d":"2014-02-28","m":7.25},
{"d":"2014-03-02","m":7.65},{"d":"2014-03-03","m":7.55},{"d":"2014-03-04","m":7.55},{"d":"2014-03-05","m":7.65},{"d":"2014-03-05","m":7.85},
{"d":"2014-03-06","m":7.75},{"d":"2014-03-07","m":7.65},{"d":"2014-03-08","m":7.55},{"d":"2014-03-09","m":7.45},{"d":"2014-03-10","m":7.35},
{"d":"2014-03-11","m":7.35},{"d":"2014-03-12","m":7.25},{"d":"2014-03-13","m":7.35},{"d":"2014-03-14","m":7.45},{"d":"2014-03-15","m":7.45},
{"d":"2014-03-16","m":7.55},{"d":"2014-03-17","m":7.45},{"d":"2014-03-18","m":7.55},{"d":"2014-03-19","m":7.45},{"d":"2014-03-20","m":7.45},
{"d":"2014-03-21","m":7.35},{"d":"2014-03-22","m":7.35},{"d":"2014-03-23","m":7.25},{"d":"2014-03-24","m":7.25},{"d":"2014-03-25","m":7.35},
{"d":"2014-03-26","m":7.45},{"d":"2014-03-27","m":7.55},{"d":"2014-03-28","m":7.45},{"d":"2014-03-29","m":7.35},{"d":"2014-03-30","m":7.35},
{"d":"2014-03-31","m":7.45},{"d":"2014-04-01","m":7.55},{"d":"2014-04-02","m":7.55},{"d":"2014-04-03","m":7.45},{"d":"2014-04-04","m":7.55},
{"d":"2014-04-05","m":7.45},{"d":"2014-04-06","m":7.45},{"d":"2014-04-07","m":7.65},{"d":"2014-04-08","m":7.55}
]},
"layer": [
{
"mark": {"type": "point", "shape": "circle", "filled": false, "fill": "white", "fillOpacity": 1, "strokeWidth": 3.5, "size": 77, "opacity": 1},
"encoding": {
"x": {"field": "d", "type": "temporal",
"scale": {"type": "utc", "domain": [{"year": 2013, "month": 12, "date": 1, "utc": true}, {"year": 2014, "month": 12, "date": 1, "utc": true}]},
"axis": {"orient": "bottom", "title": "Date", "titleFontSize": 24, "titleFontWeight": "normal", "titleColor": "black", "titleFont": "Liberation Sans", "titlePadding": 7,
"values": [
{"year":2013,"month":12,"date":1,"utc":true},{"year":2013,"month":12,"date":11,"utc":true},{"year":2013,"month":12,"date":21,"utc":true},
{"year":2014,"month":1,"date":1,"utc":true},{"year":2014,"month":1,"date":11,"utc":true},{"year":2014,"month":1,"date":21,"utc":true},
{"year":2014,"month":2,"date":1,"utc":true},{"year":2014,"month":2,"date":11,"utc":true},{"year":2014,"month":2,"date":21,"utc":true},
{"year":2014,"month":3,"date":1,"utc":true},{"year":2014,"month":3,"date":11,"utc":true},{"year":2014,"month":3,"date":21,"utc":true},
{"year":2014,"month":4,"date":1,"utc":true},{"year":2014,"month":4,"date":11,"utc":true},{"year":2014,"month":4,"date":21,"utc":true},
{"year":2014,"month":5,"date":1,"utc":true},{"year":2014,"month":5,"date":11,"utc":true},{"year":2014,"month":5,"date":21,"utc":true},
{"year":2014,"month":6,"date":1,"utc":true},{"year":2014,"month":6,"date":11,"utc":true},{"year":2014,"month":6,"date":21,"utc":true},
{"year":2014,"month":7,"date":1,"utc":true},{"year":2014,"month":7,"date":11,"utc":true},{"year":2014,"month":7,"date":21,"utc":true},
{"year":2014,"month":8,"date":1,"utc":true},{"year":2014,"month":8,"date":11,"utc":true},{"year":2014,"month":8,"date":21,"utc":true},
{"year":2014,"month":9,"date":1,"utc":true},{"year":2014,"month":9,"date":11,"utc":true},{"year":2014,"month":9,"date":21,"utc":true},
{"year":2014,"month":10,"date":1,"utc":true},{"year":2014,"month":10,"date":11,"utc":true},{"year":2014,"month":10,"date":21,"utc":true},
{"year":2014,"month":11,"date":1,"utc":true},{"year":2014,"month":11,"date":11,"utc":true},{"year":2014,"month":11,"date":21,"utc":true}],
"labelExpr": "utcdate(datum.value) == 1 ? utcFormat(datum.value, '%m/%d/%y') : ''",
"labelFontSize": 24, "labelColor": "black", "labelFont": "Liberation Sans", "labelPadding": 25, "labelFlush": false, "labelOverlap": false, "labelBound": false,
"domain": false, "tickColor": "black", "tickWidth": 1.5,
"tickSize": {"condition": {"test": "utcdate(datum.value) == 1", "value": -11}, "value": -5},
"grid": true, "gridColor": "#8a8a8a", "gridDash": [2, 3], "gridWidth": 1.2,
"gridOpacity": {"condition": {"test": "utcdate(datum.value) == 1", "value": 1}, "value": 0}}},
"y": {"field": "m", "type": "quantitative",
"scale": {"domain": [3, 9], "reverse": true, "nice": false, "zero": false},
"axis": {"orient": "left", "title": "Magnitude", "titleFontSize": 24, "titleFontWeight": "normal", "titleColor": "black", "titleFont": "Liberation Sans", "titlePadding": 28,
"values": [3, 4, 5, 6, 7, 8, 9], "labelFontSize": 24, "labelColor": "black", "labelFont": "Liberation Sans", "labelPadding": 26, "labelFlush": false, "labelOverlap": false, "labelBound": false,
"domain": false, "tickColor": "black", "tickWidth": 1.5, "tickSize": -11,
"grid": true, "gridColor": "#8a8a8a", "gridDash": [2, 3], "gridWidth": 1.2}},
"color": {"datum": "Visual Prevalidated", "type": "nominal", "scale": {"range": ["black"]},
"legend": {"title": null, "orient": "none", "legendX": 815, "legendY": 702, "padding": 0,
"labelFontSize": 24, "labelColor": "black", "labelFont": "Liberation Sans", "labelAlign": "right", "labelOffset": -58, "labelLimit": 0,
"symbolType": "circle", "symbolSize": 64, "symbolOpacity": 1, "symbolStrokeColor": "black", "symbolStrokeWidth": 3.5, "symbolFillColor": "white"}}
}
},
{
"mark": {"type": "point", "shape": "M-1,1L1,-1", "filled": false, "stroke": "black", "strokeWidth": 2, "size": 14, "opacity": 1},
"encoding": {
"x": {"field": "d", "type": "temporal",
"axis": {"orient": "top", "title": null, "labels": false, "domain": false, "grid": false, "tickColor": "black", "tickWidth": 1.5,
"values": [
{"year":2013,"month":12,"date":1,"utc":true},{"year":2013,"month":12,"date":11,"utc":true},{"year":2013,"month":12,"date":21,"utc":true},
{"year":2014,"month":1,"date":1,"utc":true},{"year":2014,"month":1,"date":11,"utc":true},{"year":2014,"month":1,"date":21,"utc":true},
{"year":2014,"month":2,"date":1,"utc":true},{"year":2014,"month":2,"date":11,"utc":true},{"year":2014,"month":2,"date":21,"utc":true},
{"year":2014,"month":3,"date":1,"utc":true},{"year":2014,"month":3,"date":11,"utc":true},{"year":2014,"month":3,"date":21,"utc":true},
{"year":2014,"month":4,"date":1,"utc":true},{"year":2014,"month":4,"date":11,"utc":true},{"year":2014,"month":4,"date":21,"utc":true},
{"year":2014,"month":5,"date":1,"utc":true},{"year":2014,"month":5,"date":11,"utc":true},{"year":2014,"month":5,"date":21,"utc":true},
{"year":2014,"month":6,"date":1,"utc":true},{"year":2014,"month":6,"date":11,"utc":true},{"year":2014,"month":6,"date":21,"utc":true},
{"year":2014,"month":7,"date":1,"utc":true},{"year":2014,"month":7,"date":11,"utc":true},{"year":2014,"month":7,"date":21,"utc":true},
{"year":2014,"month":8,"date":1,"utc":true},{"year":2014,"month":8,"date":11,"utc":true},{"year":2014,"month":8,"date":21,"utc":true},
{"year":2014,"month":9,"date":1,"utc":true},{"year":2014,"month":9,"date":11,"utc":true},{"year":2014,"month":9,"date":21,"utc":true},
{"year":2014,"month":10,"date":1,"utc":true},{"year":2014,"month":10,"date":11,"utc":true},{"year":2014,"month":10,"date":21,"utc":true},
{"year":2014,"month":11,"date":1,"utc":true},{"year":2014,"month":11,"date":11,"utc":true},{"year":2014,"month":11,"date":21,"utc":true}],
"tickSize": {"condition": {"test": "utcdate(datum.value) == 1", "value": -11}, "value": -5}}},
"y": {"field": "m", "type": "quantitative",
"axis": {"orient": "right", "title": null, "labels": false, "domain": false, "grid": false, "tickColor": "black", "tickWidth": 1.5, "tickSize": -11, "values": [3, 4, 5, 6, 7, 8, 9]}}
}
}
],
"resolve": {"axis": {"x": "independent", "y": "independent"}}
}
